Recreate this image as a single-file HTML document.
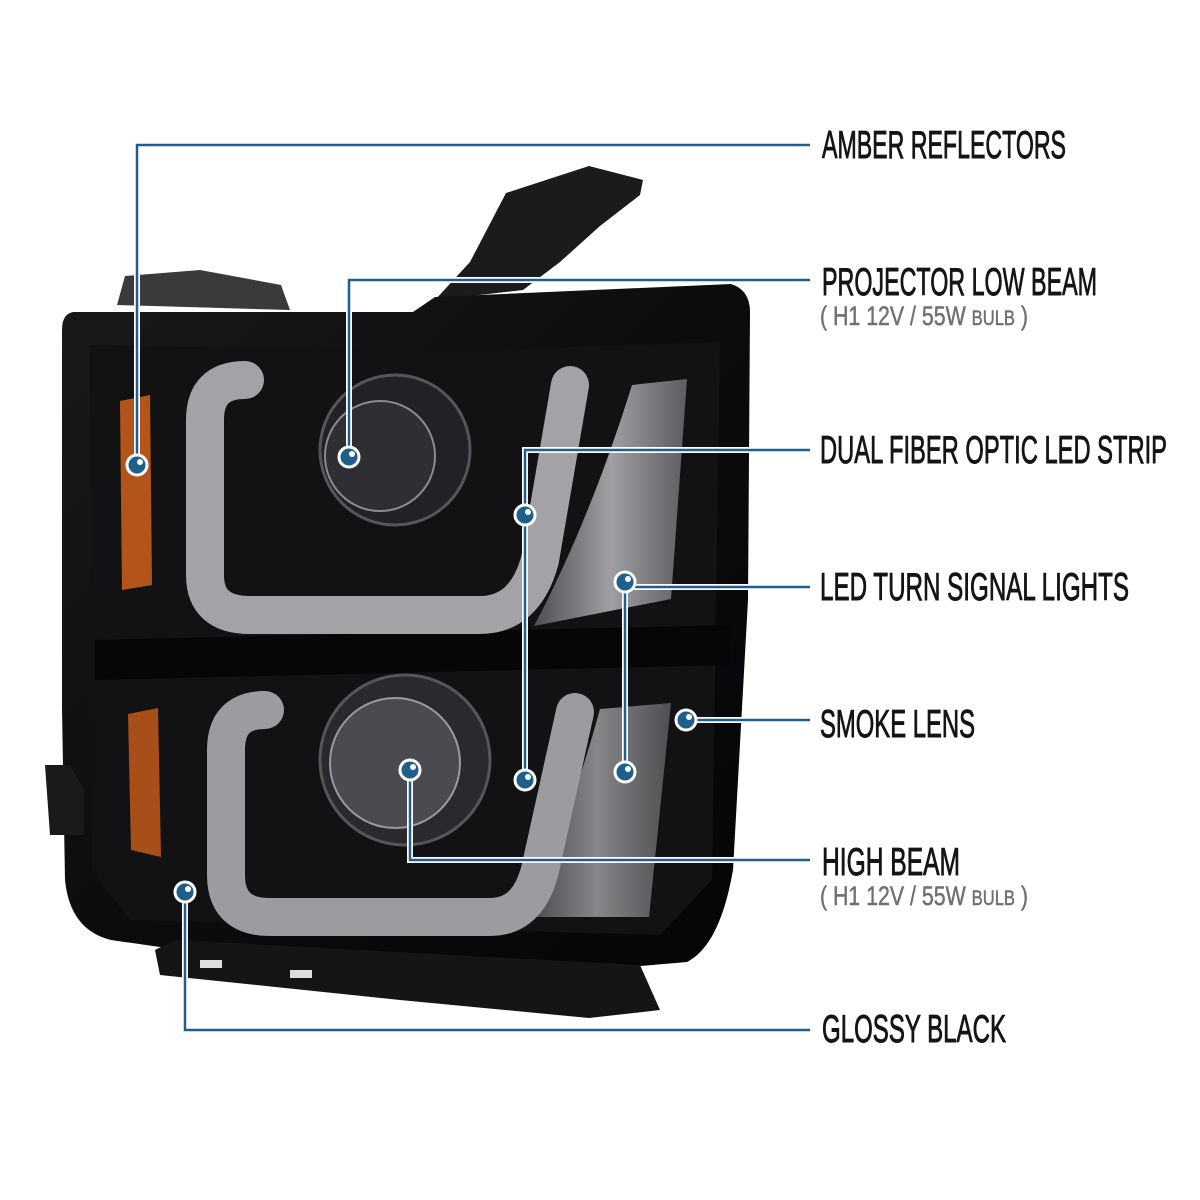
<!DOCTYPE html>
<html><head><meta charset="utf-8"><style>
html,body{margin:0;padding:0;background:#fff;width:1200px;height:1200px;overflow:hidden}
svg{display:block}
.t{font-family:"Liberation Sans",sans-serif;font-size:39px;fill:#141414;stroke:#141414;stroke-width:0.9}
.s{font-family:"Liberation Sans",sans-serif;font-size:27px;fill:#707070;stroke:#707070;stroke-width:0.5}
</style></head><body>
<svg width="1200" height="1200" viewBox="0 0 1200 1200" xmlns="http://www.w3.org/2000/svg">
<defs>
<linearGradient id="body" x1="0" y1="0" x2="1" y2="1">
<stop offset="0" stop-color="#1a1a1c"/><stop offset="0.5" stop-color="#0c0c0e"/><stop offset="1" stop-color="#050506"/>
</linearGradient>
<linearGradient id="led" x1="0" y1="0" x2="1" y2="0">
<stop offset="0" stop-color="#5a5a5e"/><stop offset="0.5" stop-color="#b8b8bc"/><stop offset="1" stop-color="#6a6a6e"/>
</linearGradient>
</defs>
<path d="M435,300 L470,262 L506,193 L589,166 L643,180 L640,195 L600,226 L560,262 L523,290 Z" fill="#1b1b1d"/>
<path d="M117,305 L125,276 L200,270 L281,285 L290,310 Z" fill="#3a3a3c"/>
<path d="M73,312 L413,312 L435,297 L731,284 Q750,290 750,312 L748,600 L733,870 Q720,945 687,962 L424,985 L111,940 Q70,930 65,880 L62,709 L62,330 Q62,314 73,312 Z" fill="url(#body)"/>
<path d="M90,345 L420,352 L720,342 L712,880 L660,935 L130,920 L92,870 Z" fill="#121214"/>
<path d="M155,950 L175,940 L640,965 L660,1010 L589,1018 L400,1000 L160,975 Z" fill="#151516"/>
<rect x="200" y="960" width="22" height="8" fill="#ddd"/><rect x="290" y="970" width="22" height="8" fill="#ddd"/>
<path d="M45,765 L70,765 L84,790 L84,835 L50,835 Z" fill="#1a1a1a"/>
<path d="M95,640 L730,625 L730,665 L95,680 Z" fill="#060607"/>
<path d="M120,401 L150,395 L152,585 L122,590 Z" fill="#b3541a"/>
<path d="M128,714 L158,708 L161,857 L131,850 Z" fill="#a84e18"/>
<path d="M632,385 L687,379 L671,599 L534,626 Q590,520 632,385 Z" fill="url(#led)" opacity="0.85"/>
<path d="M600,709 L671,703 L649,917 L523,917 Q570,820 600,709 Z" fill="url(#led)" opacity="0.7"/>
<circle cx="395" cy="450" r="75" fill="#222226" stroke="#55555a" stroke-width="3"/>
<circle cx="380" cy="456" r="55" fill="#2e2e33" stroke="#8a8a8f" stroke-width="2"/>
<circle cx="405" cy="760" r="85" fill="#2a2a2e" stroke="#55555a" stroke-width="3"/>
<circle cx="395" cy="763" r="65" fill="#4a4a50" stroke="#9a9aa0" stroke-width="2"/>
<path d="M245,380 Q205,380 205,420 L205,575 Q205,615 250,615 L480,615 Q525,615 540,560 L570,385" fill="none" stroke="#a2a2a7" stroke-width="38" stroke-linecap="round"/>
<path d="M265,710 Q226,710 226,750 L226,875 Q226,917 270,917 L490,917 Q528,917 540,870 L575,712" fill="none" stroke="#9b9ba0" stroke-width="38" stroke-linecap="round"/>
<g fill="none" stroke="#fff" stroke-width="6">
<path d="M137,465 V145 H810"/><path d="M349,457 V280 H810"/>
<path d="M525,780 V450 H810"/><path d="M625,772 V587 H810"/>
<path d="M686,720 H810"/><path d="M410,770 V860 H810"/><path d="M185,892 V1030 H810"/>
</g>
<g fill="none" stroke="#1e5f8c" stroke-width="2.5">
<path d="M137,465 V145 H810"/><path d="M349,457 V280 H810"/>
<path d="M525,780 V450 H810"/><path d="M625,772 V587 H810"/>
<path d="M686,720 H810"/><path d="M410,770 V860 H810"/><path d="M185,892 V1030 H810"/>
</g>
<g fill="#1e5f8c" stroke="#fff" stroke-width="3">
<circle cx="137" cy="465" r="10"/><circle cx="349" cy="457" r="10"/>
<circle cx="525" cy="515" r="10"/><circle cx="525" cy="780" r="10"/>
<circle cx="625" cy="582" r="10"/><circle cx="625" cy="772" r="10"/>
<circle cx="686" cy="720" r="10"/><circle cx="410" cy="770" r="10"/>
<circle cx="185" cy="892" r="10"/>
</g>
<g fill="#fff">
<circle cx="140" cy="462" r="3"/><circle cx="352" cy="454" r="3"/>
<circle cx="528" cy="512" r="3"/><circle cx="528" cy="777" r="3"/>
<circle cx="628" cy="579" r="3"/><circle cx="628" cy="769" r="3"/>
<circle cx="689" cy="717" r="3"/><circle cx="413" cy="767" r="3"/>
<circle cx="188" cy="889" r="3"/>
</g>
<text class="t" x="822" y="158" textLength="244" lengthAdjust="spacingAndGlyphs">AMBER REFLECTORS</text>
<text class="t" x="822" y="295" textLength="275" lengthAdjust="spacingAndGlyphs">PROJECTOR LOW BEAM</text>
<text class="s" x="820" y="325" textLength="208" lengthAdjust="spacingAndGlyphs">( H1  12V / 55W  <tspan font-size="21">BULB</tspan> )</text>
<text class="t" x="820" y="463" textLength="347" lengthAdjust="spacingAndGlyphs">DUAL FIBER OPTIC LED STRIP</text>
<text class="t" x="820" y="600" textLength="309" lengthAdjust="spacingAndGlyphs">LED TURN SIGNAL LIGHTS</text>
<text class="t" x="820" y="737" textLength="155" lengthAdjust="spacingAndGlyphs">SMOKE LENS</text>
<text class="t" x="822" y="875" textLength="138" lengthAdjust="spacingAndGlyphs">HIGH BEAM</text>
<text class="s" x="820" y="905" textLength="208" lengthAdjust="spacingAndGlyphs">( H1  12V / 55W  <tspan font-size="21">BULB</tspan> )</text>
<text class="t" x="822" y="1042" textLength="184" lengthAdjust="spacingAndGlyphs">GLOSSY BLACK</text>
</svg>
</body></html>
